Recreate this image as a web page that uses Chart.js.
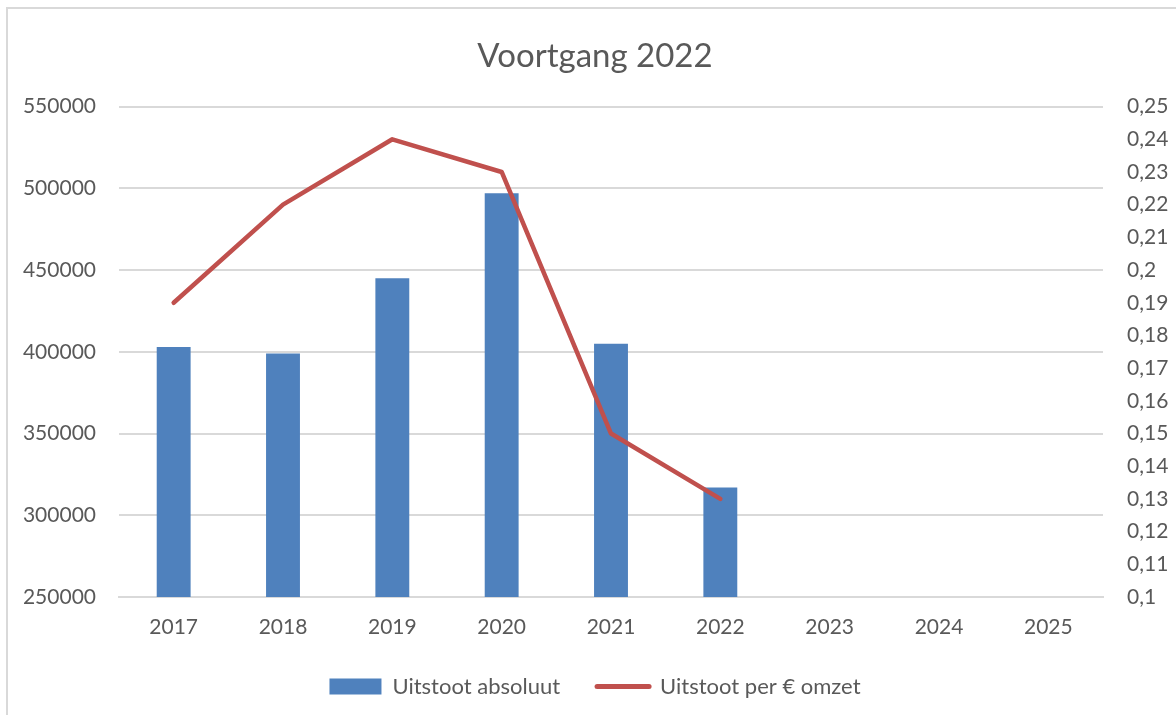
<!DOCTYPE html>
<html>
<head>
<meta charset="utf-8">
<script src="https://cdn.jsdelivr.net/npm/chart.js@4.4.1/dist/chart.umd.min.js"></script>
<style>
  body { margin: 0; background: #fff; overflow: hidden; }
  #frame { position: absolute; left: 6px; top: 7px; width: 1300px; height: 800px; border: 2px solid #d9d9d9; }
  #wrap { position: absolute; left: 0; top: 0; width: 1190px; height: 715px; }
</style>
</head>
<body>
<div id="frame"></div>
<div id="wrap"><canvas id="combiChart" width="1190" height="715"></canvas></div>
<script>
// data
var years = ['2017', '2018', '2019', '2020', '2021', '2022', '2023', '2024', '2025'];
var uitstootAbsoluut = [403000, 399000, 445000, 497000, 405000, 317000, null, null, null];
var uitstootPerOmzet = [0.19, 0.22, 0.24, 0.23, 0.15, 0.13, null, null, null];
var seriesNames = ['Uitstoot absoluut', 'Uitstoot per € omzet'];

var txt = '#595959';
var grid = '#d9d9d9';
var fam = 'Lato, "Liberation Sans", sans-serif';

function combiChart() {
  var ctx = document.getElementById('combiChart').getContext('2d');
  myChart = new Chart(ctx, {
    data: {
      labels: years,
      datasets: [{
        type: 'line',
        label: seriesNames[1],
        data: uitstootPerOmzet,
        yAxisID: 'y2',
        borderColor: '#c0504d',
        borderWidth: 4.5,
        borderCapStyle: 'round',
        borderJoinStyle: 'round',
        pointRadius: 0,
        tension: 0,
        fill: false,
        order: 0
      }, {
        type: 'bar',
        label: seriesNames[0],
        data: uitstootAbsoluut,
        yAxisID: 'y',
        backgroundColor: '#4f81bd',
        categoryPercentage: 1,
        barPercentage: 0.31,
        order: 1
      }]
    },
    options: {
      responsive: false,
      animation: false,
      layout: { padding: { left: 0, right: 0, top: 0, bottom: 7.5 } },
      scales: {
        x: {
          grid: { display: false, drawTicks: false },
          border: { display: true, color: grid, width: 2 },
          ticks: { color: txt, font: { family: fam, size: 21 }, padding: 18 },
          afterFit: function(scale) { scale.height = 41.5; }
        },
        y: {
          position: 'left',
          min: 250000,
          max: 550000,
          grid: { color: grid, lineWidth: 2, drawTicks: false },
          border: { display: false },
          ticks: {
            stepSize: 50000,
            color: txt,
            font: { family: fam, size: 21 },
            padding: 23,
            callback: function(v) { return String(v); }
          },
          afterFit: function(scale) { scale.width = 119; }
        },
        y2: {
          position: 'right',
          min: 0.1,
          max: 0.25,
          grid: { display: false, drawTicks: false },
          border: { display: false },
          ticks: {
            stepSize: 0.01,
            color: txt,
            font: { family: fam, size: 21 },
            padding: 24,
            callback: function(v) { return String(Math.round(v * 100) / 100).replace('.', ','); }
          },
          afterFit: function(scale) { scale.width = 87; }
        }
      },
      plugins: {
        title: {
          display: true,
          text: 'Voortgang 2022',
          color: txt,
          font: { family: fam, size: 33, weight: 'normal' },
          padding: { top: 37, bottom: 30 }
        },
        legend: {
          position: 'bottom',
          labels: {
            color: txt,
            font: { family: fam, size: 22 },
            usePointStyle: true,
            pointStyleWidth: 52,
            boxHeight: 16,
            padding: 37,
            generateLabels: function(chart) {
              return [{
                text: seriesNames[0],
                fillStyle: '#4f81bd',
                strokeStyle: '#4f81bd',
                lineWidth: 0,
                pointStyle: 'rect',
                datasetIndex: 1,
                fontColor: txt
              }, {
                text: seriesNames[1],
                fillStyle: '#c0504d',
                strokeStyle: '#c0504d',
                lineWidth: 5,
                lineCap: 'round',
                pointStyle: 'line',
                datasetIndex: 0,
                fontColor: txt
              }];
            }
          }
        },
        tooltip: { enabled: false }
      }
    }
  });
}

combiChart();
</script>
</body>
</html>
